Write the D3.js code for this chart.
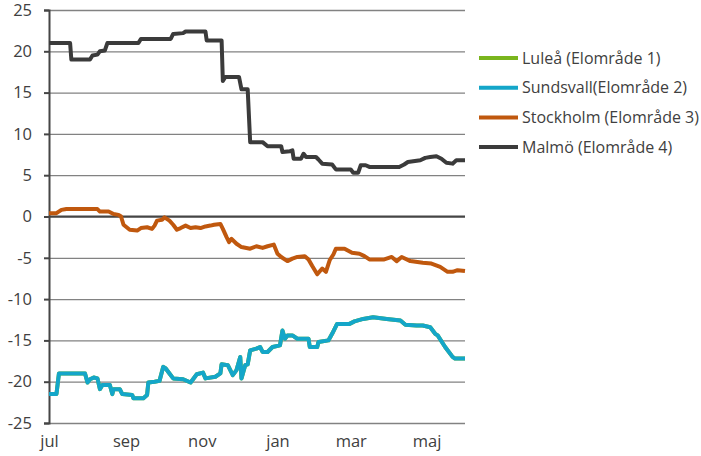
<!DOCTYPE html>
<html>
<head>
<meta charset="utf-8">
<script src="https://cdn.jsdelivr.net/npm/d3@7"></script>
<style>
  html, body { margin: 0; padding: 0; background: #fff; }
  svg { display: block; }
  text { font-family: "Open Sans", "Noto Sans", sans-serif; fill: #404040; }
</style>
</head>
<body>
<svg id="chart" width="701" height="456"></svg>
<script>
// Price differences per bidding area (SEK/MWh), season July 2012 – June 2013
const seriesNames = ["Luleå (Elområde 1)", "Sundsvall(Elområde 2)", "Stockholm (Elområde 3)", "Malmö (Elområde 4)"];
const seriesColors = ["#7ab51d", "#14a6c9", "#c0580e", "#3b3b3b"];

const yTicks = [25, 20, 15, 10, 5, 0, -5, -10, -15, -20, -25];
const monthTicks = ["2012-07-01", "2012-09-01", "2012-11-01", "2013-01-01", "2013-03-01", "2013-05-01"];
const monthLabels = ["jul", "sep", "nov", "jan", "mar", "maj"];
const xStart = "2012-07-01";
const xEnd = "2013-06-01";

const sundsvall = [
  ["2012-07-01", -21.5], ["2012-07-07", -21.5], ["2012-07-09", -19.0], ["2012-07-30", -19.0],
  ["2012-08-01", -20.1], ["2012-08-03", -19.7], ["2012-08-06", -19.5], ["2012-08-09", -19.6],
  ["2012-08-11", -20.9], ["2012-08-13", -20.4], ["2012-08-19", -20.4], ["2012-08-21", -21.5],
  ["2012-08-22", -20.9], ["2012-08-27", -20.9], ["2012-08-29", -21.5], ["2012-09-06", -21.6],
  ["2012-09-07", -22.0], ["2012-09-15", -22.0], ["2012-09-18", -21.6], ["2012-09-19", -20.1],
  ["2012-09-24", -20.0], ["2012-09-28", -19.9], ["2012-10-01", -18.2], ["2012-10-03", -18.4],
  ["2012-10-06", -19.0], ["2012-10-09", -19.6], ["2012-10-17", -19.7], ["2012-10-23", -20.1],
  ["2012-10-25", -19.7], ["2012-10-28", -19.1], ["2012-11-02", -18.9], ["2012-11-04", -19.6],
  ["2012-11-12", -19.4], ["2012-11-16", -19.0], ["2012-11-17", -17.9], ["2012-11-22", -18.0],
  ["2012-11-26", -19.2], ["2012-11-29", -18.6], ["2012-12-02", -17.0], ["2012-12-03", -19.6],
  ["2012-12-06", -18.0], ["2012-12-08", -17.9], ["2012-12-10", -16.2],
  ["2012-12-15", -16.0], ["2012-12-18", -15.8], ["2012-12-20", -16.4], ["2012-12-24", -16.4],
  ["2012-12-28", -15.8], ["2013-01-03", -15.6], ["2013-01-05", -13.8], ["2013-01-07", -14.8],
  ["2013-01-09", -14.4], ["2013-01-13", -14.4], ["2013-01-17", -14.8], ["2013-01-26", -14.8],
  ["2013-01-27", -15.8], ["2013-02-02", -15.8], ["2013-02-03", -15.2], ["2013-02-11", -15.0],
  ["2013-02-14", -14.2], ["2013-02-18", -13.0], ["2013-02-28", -13.0], ["2013-03-04", -12.7],
  ["2013-03-11", -12.4], ["2013-03-19", -12.2], ["2013-03-30", -12.4], ["2013-04-10", -12.6],
  ["2013-04-14", -13.1], ["2013-04-23", -13.2], ["2013-04-28", -13.2], ["2013-05-04", -13.4],
  ["2013-05-08", -14.2], ["2013-05-10", -14.4], ["2013-05-16", -15.8], ["2013-05-22", -17.0],
  ["2013-05-24", -17.2], ["2013-06-01", -17.2]
];

// SE1 and SE2 cleared at the same price all season, so Luleå runs under Sundsvall
const lulea = sundsvall;

const stockholm = [
  ["2012-07-01", 0.4], ["2012-07-07", 0.4], ["2012-07-11", 0.8], ["2012-07-15", 0.9],
  ["2012-08-09", 0.9], ["2012-08-11", 0.6], ["2012-08-18", 0.6], ["2012-08-22", 0.3],
  ["2012-08-26", 0.2], ["2012-08-28", 0.0], ["2012-08-30", -1.0], ["2012-09-04", -1.6],
  ["2012-09-10", -1.7], ["2012-09-13", -1.4], ["2012-09-18", -1.3], ["2012-09-22", -1.5],
  ["2012-09-24", -1.1], ["2012-09-26", -0.5], ["2012-09-30", -0.4], ["2012-10-02", -0.1],
  ["2012-10-06", -0.5], ["2012-10-09", -1.0], ["2012-10-12", -1.6], ["2012-10-15", -1.4],
  ["2012-10-19", -1.1], ["2012-10-23", -1.4], ["2012-10-27", -1.3], ["2012-10-31", -1.4],
  ["2012-11-04", -1.2], ["2012-11-08", -1.1], ["2012-11-11", -1.0], ["2012-11-16", -0.9],
  ["2012-11-18", -1.5], ["2012-11-21", -2.5], ["2012-11-23", -3.1], ["2012-11-25", -2.7],
  ["2012-11-29", -3.3], ["2012-12-03", -3.7], ["2012-12-10", -3.9], ["2012-12-15", -3.6],
  ["2012-12-20", -3.8], ["2012-12-24", -3.6], ["2012-12-29", -3.4], ["2013-01-01", -4.5],
  ["2013-01-04", -4.9], ["2013-01-09", -5.4], ["2013-01-13", -5.1], ["2013-01-17", -4.9],
  ["2013-01-23", -4.8], ["2013-01-26", -5.2], ["2013-01-29", -6.0], ["2013-02-02", -7.0],
  ["2013-02-06", -6.3], ["2013-02-09", -6.7], ["2013-02-12", -5.3], ["2013-02-15", -4.6],
  ["2013-02-17", -3.9], ["2013-02-24", -3.9], ["2013-03-02", -4.4], ["2013-03-08", -4.5],
  ["2013-03-12", -4.8], ["2013-03-16", -5.2], ["2013-03-28", -5.2], ["2013-04-03", -4.9],
  ["2013-04-07", -5.4], ["2013-04-11", -4.9], ["2013-04-18", -5.4], ["2013-04-28", -5.6],
  ["2013-05-05", -5.7], ["2013-05-12", -6.1], ["2013-05-18", -6.7], ["2013-05-22", -6.7],
  ["2013-05-26", -6.5], ["2013-06-01", -6.6]
];

const malmo = [
  ["2012-07-01", 21.0], ["2012-07-18", 21.0], ["2012-07-19", 19.0], ["2012-08-03", 19.0],
  ["2012-08-05", 19.5], ["2012-08-09", 19.6], ["2012-08-11", 20.0], ["2012-08-15", 20.1],
  ["2012-08-17", 21.0], ["2012-09-11", 21.0], ["2012-09-13", 21.5], ["2012-10-07", 21.5],
  ["2012-10-09", 22.1], ["2012-10-17", 22.2], ["2012-10-19", 22.4], ["2012-11-04", 22.4],
  ["2012-11-05", 21.3], ["2012-11-17", 21.3], ["2012-11-18", 16.4], ["2012-11-20", 16.9],
  ["2012-12-01", 16.9], ["2012-12-03", 15.4], ["2012-12-08", 15.4], ["2012-12-10", 9.0],
  ["2012-12-20", 9.0], ["2012-12-24", 8.5], ["2013-01-04", 8.5], ["2013-01-05", 7.8],
  ["2013-01-11", 7.9], ["2013-01-13", 8.0], ["2013-01-14", 7.0], ["2013-01-20", 7.0],
  ["2013-01-22", 7.6], ["2013-01-24", 7.2], ["2013-02-01", 7.2], ["2013-02-03", 6.9],
  ["2013-02-06", 6.4], ["2013-02-14", 6.3], ["2013-02-17", 5.7], ["2013-03-01", 5.7],
  ["2013-03-03", 5.3], ["2013-03-07", 5.3], ["2013-03-09", 6.2], ["2013-03-13", 6.2],
  ["2013-03-16", 6.0], ["2013-04-09", 6.0], ["2013-04-13", 6.3], ["2013-04-16", 6.6],
  ["2013-04-26", 6.8], ["2013-04-30", 7.1], ["2013-05-04", 7.2], ["2013-05-09", 7.3],
  ["2013-05-13", 7.0], ["2013-05-17", 6.5], ["2013-05-22", 6.4], ["2013-05-25", 6.8],
  ["2013-06-01", 6.8]
];

const seriesData = [lulea, sundsvall, stockholm, malmo];

const parse = d3.timeParse("%Y-%m-%d");
const svg = d3.select("#chart");

const x = d3.scaleTime().domain([parse(xStart), parse(xEnd)]).range([49, 465]);
const y = d3.scaleLinear().domain([-25, 25]).range([423, 10]);

// horizontal gridlines
svg.append("g")
  .attr("transform", "translate(49,0)")
  .call(d3.axisLeft(y).tickValues(yTicks).tickSize(-(465 - 49)).tickFormat(""))
  .call(g => g.select(".domain").remove())
  .call(g => g.selectAll("line").attr("stroke", "#828282").attr("stroke-width", 1.3));

// zero line
svg.append("line")
  .attr("x1", 49).attr("x2", 465)
  .attr("y1", y(0)).attr("y2", y(0))
  .attr("stroke", "#454545").attr("stroke-width", 2);

// y axis
svg.append("g")
  .attr("transform", "translate(49,0)")
  .call(d3.axisLeft(y).tickValues(yTicks).tickSize(5).tickPadding(12).tickFormat(d3.format("d")))
  .call(g => g.select(".domain").attr("stroke", "#454545").attr("stroke-width", 2))
  .call(g => g.selectAll("line").attr("stroke", "#454545").attr("stroke-width", 2))
  .call(g => g.selectAll("text")
    .attr("font-size", 16.5)
    .attr("fill", "#404040")
    .text(d => d < 0 ? "-" + Math.abs(d) : d));

// x axis labels (months)
svg.append("g")
  .attr("transform", "translate(0,436)")
  .call(d3.axisBottom(x).tickValues(monthTicks.map(parse)).tickSize(0)
    .tickFormat((d, i) => monthLabels[i]))
  .call(g => g.select(".domain").remove())
  .call(g => g.selectAll("text").attr("font-size", 16.5).attr("fill", "#404040").attr("dy", "0.5em"));

// series lines
const line = d3.line()
  .x(d => x(parse(d[0])))
  .y(d => y(d[1]));

svg.append("g")
  .selectAll("path")
  .data(seriesData)
  .join("path")
  .attr("d", line)
  .attr("fill", "none")
  .attr("stroke", (d, i) => seriesColors[i])
  .attr("stroke-width", 4)
  .attr("stroke-linejoin", "round")
  .attr("stroke-linecap", "butt");

// legend
const legend = svg.append("g").attr("transform", "translate(479,58)");
const item = legend.selectAll("g")
  .data(seriesNames)
  .join("g")
  .attr("transform", (d, i) => `translate(0,${i * 29.7})`);
item.append("line")
  .attr("x1", 0).attr("x2", 39)
  .attr("stroke", (d, i) => seriesColors[i])
  .attr("stroke-width", 4);
item.append("text")
  .attr("x", 43)
  .attr("dy", "0.36em")
  .attr("font-size", 16)
  .attr("fill", "#404040")
  .text(d => d);
</script>
</body>
</html>
